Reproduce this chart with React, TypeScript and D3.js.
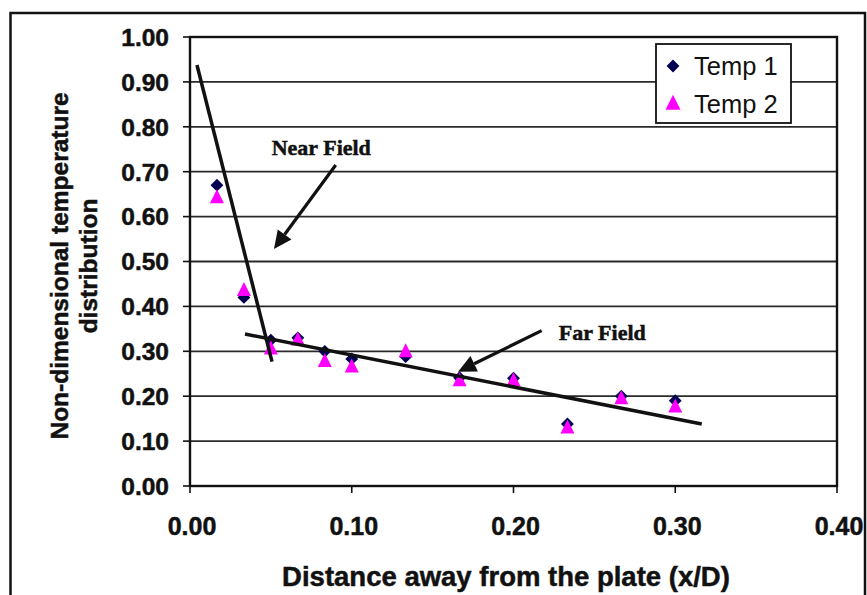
import React from "react";
import * as d3 from "d3";

const xPositions = [1 / 60, 2 / 60, 3 / 60, 4 / 60, 5 / 60, 6 / 60, 8 / 60, 10 / 60, 12 / 60, 14 / 60, 16 / 60, 18 / 60];
const temp1 = [0.67, 0.42, 0.325, 0.33, 0.3, 0.283, 0.288, 0.241, 0.24, 0.138, 0.2, 0.19];
const temp2 = [0.644, 0.437, 0.307, 0.327, 0.279, 0.267, 0.301, 0.236, 0.236, 0.131, 0.196, 0.178];
const seriesNames = ["Temp 1", "Temp 2"];

const xTicks = [0, 0.1, 0.2, 0.3, 0.4];
const yTicks = [0, 0.1, 0.2, 0.3, 0.4, 0.5, 0.6, 0.7, 0.8, 0.9, 1.0];

// fitted trend lines [x, y]
const nearFieldLine: [number, number][] = [[0.0043, 0.9376], [0.0507, 0.277]];
const farFieldLine: [number, number][] = [[0.034, 0.3385], [0.3164, 0.138]];

// annotations: label, label position, arrow tail, arrow tip
const annotationLabels = ["Near Field", "Far Field"];
const annotationText: [number, number][] = [[0.0505, 0.737], [0.228, 0.325]];
const arrowTails: [number, number][] = [[0.0901, 0.715], [0.2174, 0.346]];
const arrowTips: [number, number][] = [[0.0519, 0.528], [0.1657, 0.2546]];

const W = 867;
const H = 595;
const left = 190, right = 837, top = 37, bottom = 486;

export default function App() {
  const x = d3.scaleLinear().domain([0, 0.4]).range([left, right]);
  const y = d3.scaleLinear().domain([0, 1]).range([bottom, top]);
  const line = d3.line<[number, number]>().x(d => x(d[0])).y(d => y(d[1]));
  const diamond = d3.symbol().type(d3.symbolDiamond2).size(105)();
  const triangle = (cx: number, cy: number, s: number) =>
    `M${cx},${cy - s * 0.55}L${cx + s * 0.5},${cy + s * 0.45}L${cx - s * 0.5},${cy + s * 0.45}Z`;

  const arrowHead = (tail: [number, number], tip: [number, number]) => {
    const tx = x(tip[0]), ty = y(tip[1]);
    const sx = x(tail[0]), sy = y(tail[1]);
    const ang = Math.atan2(ty - sy, tx - sx);
    const len = 18, hw = 8.5;
    const bx = tx - len * Math.cos(ang), by = ty - len * Math.sin(ang);
    const px = -Math.sin(ang) * hw, py = Math.cos(ang) * hw;
    return { path: `M${tx},${ty}L${bx + px},${by + py}L${bx - px},${by - py}Z`, bx, by };
  };

  const sans = "'Liberation Sans', Arial, sans-serif";
  const serif = "'Liberation Serif', 'Times New Roman', serif";
  const ink = "#111";
  const bold = { stroke: ink, strokeWidth: 0.5 };

  return (
    <svg width={W} height={H} style={{ position: "absolute", left: 0, top: 0 }}>
      <rect x={0} y={0} width={W} height={H} fill="#fff" />
      <rect x={10.5} y={13} width={854.5} height={H} fill="none" stroke={ink} strokeWidth={2.5} />

      {/* gridlines */}
      {yTicks.map(t => (
        <line key={"g" + t} x1={left} x2={right} y1={y(t)} y2={y(t)} stroke="#2a2a2a" strokeWidth={1.8} />
      ))}
      {/* plot border */}
      <rect x={left} y={top} width={right - left} height={bottom - top} fill="none" stroke={ink} strokeWidth={2.4} />

      {/* y ticks */}
      {yTicks.map(t => (
        <g key={"yt" + t}>
          <line x1={left - 7} x2={left} y1={y(t)} y2={y(t)} stroke={ink} strokeWidth={1.6} />
          <text x={169} y={y(t)} dy="0.36em" textAnchor="end" fontFamily={sans} fontWeight="bold" fontSize={24.5} fill={ink} {...bold}>
            {t.toFixed(2)}
          </text>
        </g>
      ))}
      {/* x ticks */}
      {xTicks.map(t => (
        <g key={"xt" + t}>
          <line x1={x(t)} x2={x(t)} y1={bottom} y2={bottom + 7} stroke={ink} strokeWidth={1.6} />
          <text x={x(t) + 2} y={535} textAnchor="middle" fontFamily={sans} fontWeight="bold" fontSize={25} fill={ink} {...bold}>
            {t.toFixed(2)}
          </text>
        </g>
      ))}

      {/* axis titles */}
      <text x={506} y={586} textAnchor="middle" fontFamily={sans} fontWeight="bold" fontSize={27.5} fill={ink} {...bold}>
        Distance away from the plate (x/D)
      </text>
      <g transform="translate(68,266) rotate(-90)">
        <text x={0} y={0} textAnchor="middle" fontFamily={sans} fontWeight="bold" fontSize={24.5} fill={ink} {...bold}>
          Non-dimensional temperature
        </text>
        <text x={0} y={29} textAnchor="middle" fontFamily={sans} fontWeight="bold" fontSize={24.5} fill={ink} {...bold}>
          distribution
        </text>
      </g>

      {/* data */}
      {xPositions.map((xv, i) => (
        <path key={"d" + i} d={diamond} transform={`translate(${x(xv)},${y(temp1[i])})`} fill="#000050" />
      ))}
      {xPositions.map((xv, i) => (
        <path key={"t" + i} d={triangle(x(xv), y(temp2[i]), 14)} fill="#ff00ff" />
      ))}

      {/* trend lines */}
      <path d={line(nearFieldLine) || ""} stroke={ink} strokeWidth={3.5} fill="none" />
      <path d={line(farFieldLine) || ""} stroke={ink} strokeWidth={3.5} fill="none" />

      {/* annotations */}
      {annotationLabels.map((lab, i) => {
        const h = arrowHead(arrowTails[i], arrowTips[i]);
        return (
          <g key={"a" + i}>
            <line x1={x(arrowTails[i][0])} y1={y(arrowTails[i][1])} x2={h.bx} y2={h.by} stroke={ink} strokeWidth={3.2} />
            <path d={h.path} fill={ink} />
            <text x={x(annotationText[i][0])} y={y(annotationText[i][1])} fontFamily={serif} fontWeight="bold" fontSize={22} fill={ink} {...bold}>
              {lab}
            </text>
          </g>
        );
      })}

      {/* legend */}
      <rect x={656} y={44} width={135} height={79} fill="#fff" stroke={ink} strokeWidth={1.8} />
      <path d={diamond} transform="translate(673,66)" fill="#000050" />
      <path d={triangle(673, 103, 15)} fill="#ff00ff" />
      <text x={694} y={75} fontFamily={sans} fontSize={25.5} fill={ink}>{seriesNames[0]}</text>
      <text x={694} y={113} fontFamily={sans} fontSize={25.5} fill={ink}>{seriesNames[1]}</text>
    </svg>
  );
}
